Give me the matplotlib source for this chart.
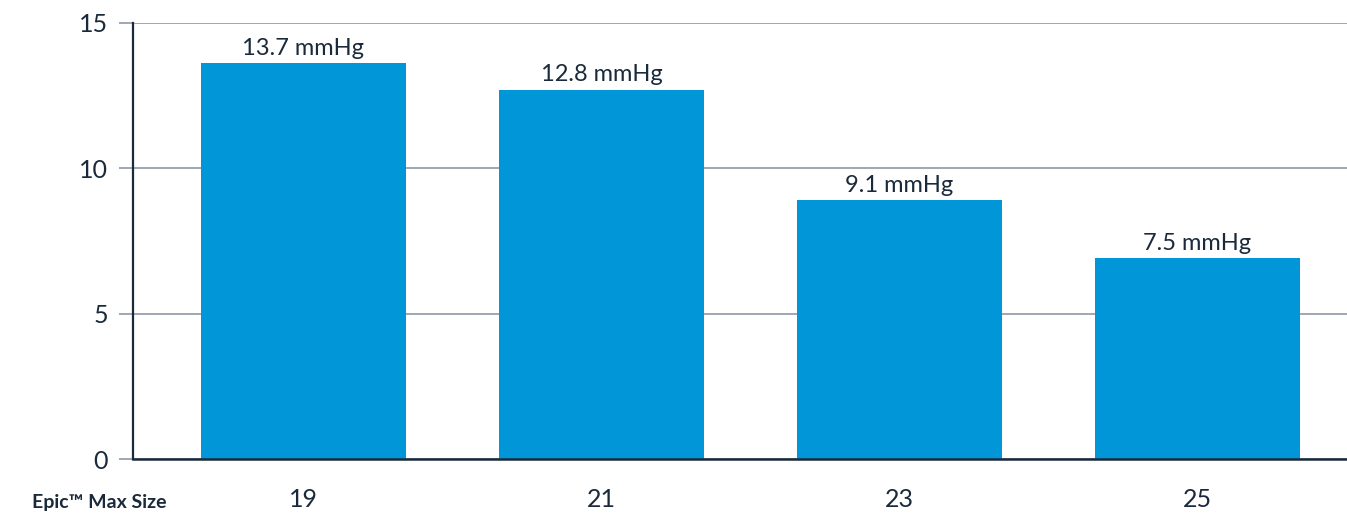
import matplotlib.pyplot as plt

## chart data
sizes = ['19', '21', '23', '25']
gradients = [13.6, 12.7, 8.9, 6.9]   ## bar heights as drawn
labels = ['13.7 mmHg', '12.8 mmHg', '9.1 mmHg', '7.5 mmHg']
yticks = [0, 5, 10, 15]

BAR_COLOR = '#0096d7'
TEXT_COLOR = '#1b2a3a'
GRID_COLOR = '#8d9aa7'

plt.rcParams['font.family'] = ['Lato', 'DejaVu Sans']

fig = plt.figure(figsize=(13.47, 5.16), dpi=100)
ax = fig.add_axes([0.0987, 0.110, 0.9013, 0.846])

xpos = list(range(len(sizes)))
bars = ax.bar(xpos, gradients, width=0.688, color=BAR_COLOR, zorder=3)

## value labels sit right on top of each bar
for rect, lab in zip(bars, labels):
    ax.annotate(lab, (rect.get_x() + rect.get_width() / 2, rect.get_height()),
                xytext=(0, 6), textcoords='offset points',
                ha='center', va='baseline', fontsize=17, color=TEXT_COLOR)

ax.set_xlim(-0.572, 3.502)
ax.set_ylim(0, 15)
ax.set_yticks(yticks)
ax.set_xticks(xpos)
ax.set_xticklabels(sizes)

ax.yaxis.grid(True, color=GRID_COLOR, linewidth=1.2, zorder=0)
ax.xaxis.grid(False)
ax.tick_params(axis='y', length=10, width=1.2, color=GRID_COLOR, pad=8,
               labelsize=18, labelcolor=TEXT_COLOR)
ax.tick_params(axis='x', length=0, pad=21, labelsize=18, labelcolor=TEXT_COLOR)

for side in ['top', 'right']:
    ax.spines[side].set_visible(False)
ax.spines['left'].set_color(TEXT_COLOR)
ax.spines['left'].set_linewidth(1.6)
ax.spines['bottom'].set_color(TEXT_COLOR)
ax.spines['bottom'].set_linewidth(1.8)
ax.spines['bottom'].set_zorder(4)

fig.text(0.0238, 0.026, 'Epic\u2122 Max Size', ha='left', va='center',
         fontsize=14, fontweight='bold', color=TEXT_COLOR)

plt.savefig('out.png', dpi=100)
